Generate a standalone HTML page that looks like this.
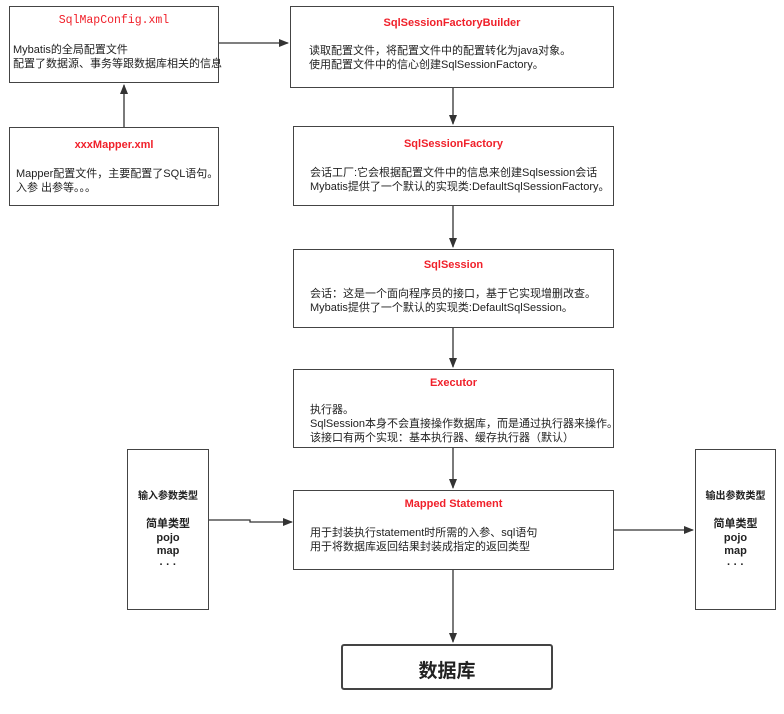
<!DOCTYPE html>
<html><head><meta charset="utf-8"><style>
body{margin:0;width:784px;height:714px;background:#fff;position:relative;font-family:"Liberation Sans","Noto Sans CJK SC",sans-serif;font-size:11px;color:#222;overflow:hidden}
.b{position:absolute;border:1.5px solid #444;box-sizing:border-box;background:#fff}
.t{position:absolute;left:0;right:0;text-align:center;color:#f0202a;font-weight:bold;font-size:11px}
.c{position:absolute;line-height:14px;white-space:nowrap}
.s{position:absolute;left:0;right:0;text-align:center;font-weight:bold;line-height:13px;font-size:10px}
</style></head><body>
<svg width="784" height="714" style="position:absolute;left:0;top:0">
<defs><marker id="a" markerWidth="10" markerHeight="8" refX="9" refY="4" orient="auto" markerUnits="userSpaceOnUse"><path d="M0,0 L10,4 L0,8z" fill="#333"/></marker></defs>
<g stroke="#333" stroke-width="1.3" fill="none">
<line x1="124" y1="127" x2="124" y2="85" marker-end="url(#a)"/>
<line x1="219" y1="43" x2="288" y2="43" marker-end="url(#a)"/>
<line x1="453" y1="88" x2="453" y2="124" marker-end="url(#a)"/>
<line x1="453" y1="206" x2="453" y2="247" marker-end="url(#a)"/>
<line x1="453" y1="328" x2="453" y2="367" marker-end="url(#a)"/>
<line x1="453" y1="448" x2="453" y2="488" marker-end="url(#a)"/>
<line x1="453" y1="570" x2="453" y2="642" marker-end="url(#a)"/>
<polyline points="209,520 250,520 250,522 292,522" marker-end="url(#a)"/>
<line x1="614" y1="530" x2="693" y2="530" marker-end="url(#a)"/>
</g></svg>
<div class="b" style="left:9px;top:6px;width:210px;height:77px"><div class="t" style="top:7px;font-family:'Liberation Mono',monospace;font-weight:normal;font-size:11.5px">SqlMapConfig.xml</div><div class="c" style="left:3px;top:36px">Mybatis的全局配置文件<br>配置了数据源、事务等跟数据库相关的信息</div></div>
<div class="b" style="left:9px;top:127px;width:210px;height:79px"><div class="t" style="top:11px">xxxMapper.xml</div><div class="c" style="left:6px;top:39px">Mapper配置文件，主要配置了SQL语句。<br>入参  出参等。。。</div></div>
<div class="b" style="left:290px;top:6px;width:324px;height:82px"><div class="t" style="top:10px">SqlSessionFactoryBuilder</div><div class="c" style="left:18px;top:37px">读取配置文件，将配置文件中的配置转化为java对象。<br>使用配置文件中的信心创建SqlSessionFactory。</div></div>
<div class="b" style="left:293px;top:126px;width:321px;height:80px"><div class="t" style="top:11px">SqlSessionFactory</div><div class="c" style="left:16px;top:39px">会话工厂:它会根据配置文件中的信息来创建Sqlsession会话<br>Mybatis提供了一个默认的实现类:DefaultSqlSessionFactory。</div></div>
<div class="b" style="left:293px;top:249px;width:321px;height:79px"><div class="t" style="top:9px">SqlSession</div><div class="c" style="left:16px;top:37px">会话：这是一个面向程序员的接口，基于它实现增删改查。<br>Mybatis提供了一个默认的实现类:DefaultSqlSession。</div></div>
<div class="b" style="left:293px;top:369px;width:321px;height:79px"><div class="t" style="top:7px">Executor</div><div class="c" style="left:16px;top:33px">执行器。<br>SqlSession本身不会直接操作数据库，而是通过执行器来操作。<br>该接口有两个实现：基本执行器、缓存执行器（默认）</div></div>
<div class="b" style="left:293px;top:490px;width:321px;height:80px"><div class="t" style="top:7px">Mapped Statement</div><div class="c" style="left:16px;top:35px">用于封装执行statement时所需的入参、sql语句<br>用于将数据库返回结果封装成指定的返回类型</div></div>
<div class="b" style="left:341px;top:644px;width:212px;height:46px;border-width:2px;border-radius:3px"><div style="position:absolute;left:0;right:0;top:10px;text-align:center;font-weight:bold;font-size:19px;color:#222">数据库</div></div>
<div class="b" style="left:127px;top:449px;width:82px;height:161px"><div class="s" style="top:40px">输入参数类型</div><div class="s" style="top:68px;font-size:11px;line-height:13.5px">简单类型<br>pojo<br>map<br>· · ·</div></div>
<div class="b" style="left:695px;top:449px;width:81px;height:161px"><div class="s" style="top:40px">输出参数类型</div><div class="s" style="top:68px;font-size:11px;line-height:13.5px">简单类型<br>pojo<br>map<br>· · ·</div></div>
</body></html>
